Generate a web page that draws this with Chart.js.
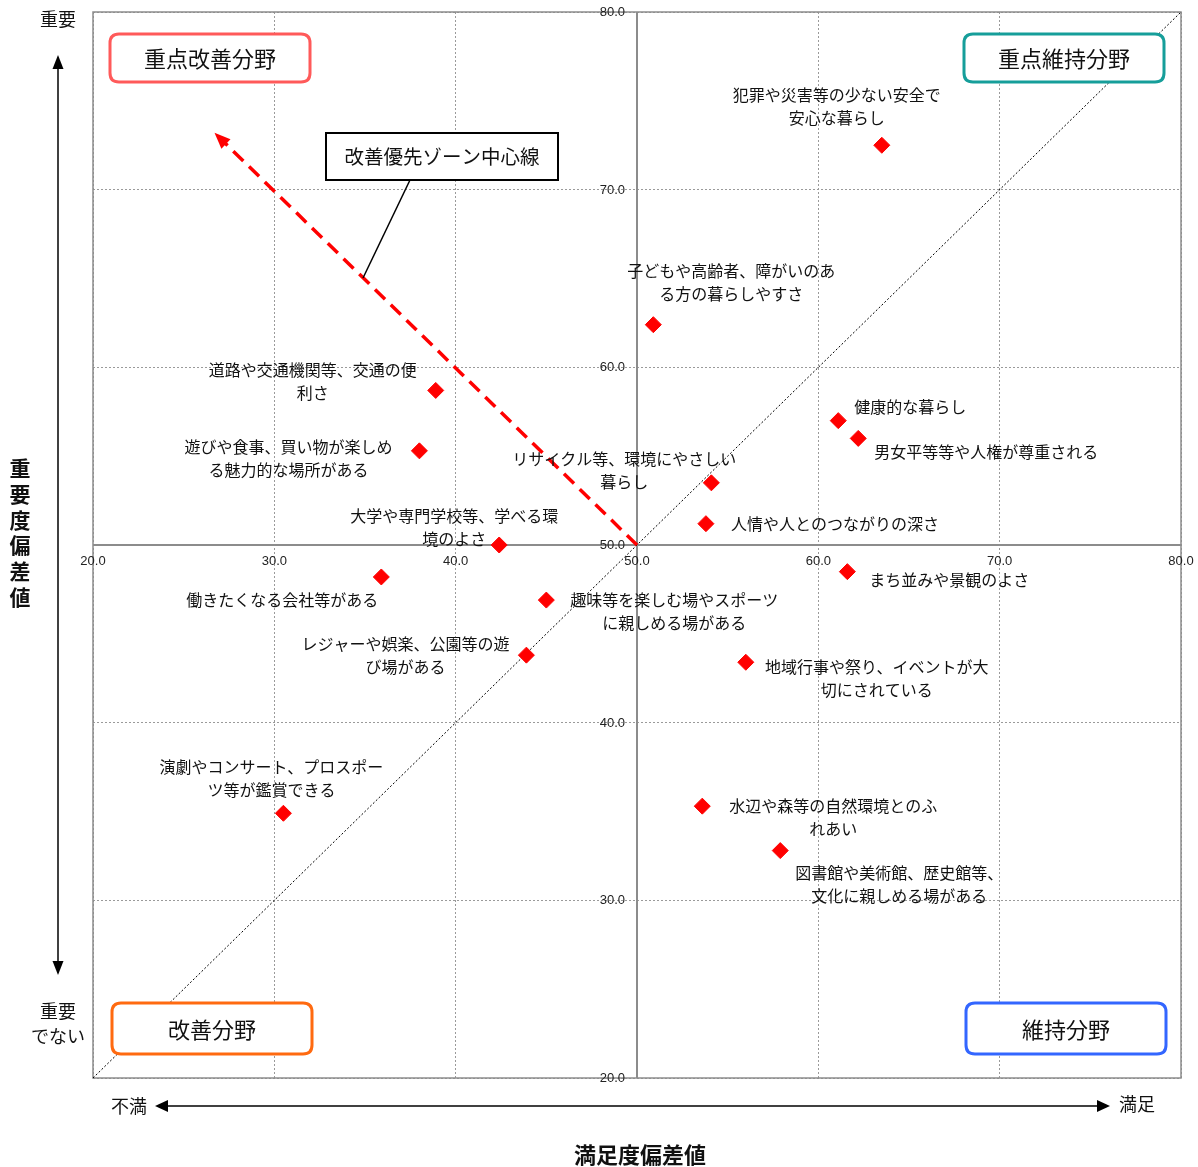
<!DOCTYPE html>
<html><head><meta charset="utf-8">
<script src="https://cdn.jsdelivr.net/npm/chart.js@4.4.1/dist/chart.umd.min.js"></script>
<style>html,body{margin:0;padding:0;background:#fff;}canvas{display:block;}</style>
</head><body>
<canvas id="c" width="1198" height="1167"></canvas>
<script>
// ---- data ----
const itemNames = [
  ["犯罪や災害等の少ない安全で","安心な暮らし"],
  ["子どもや高齢者、障がいのあ","る方の暮らしやすさ"],
  ["道路や交通機関等、交通の便","利さ"],
  ["遊びや食事、買い物が楽しめ","る魅力的な場所がある"],
  ["健康的な暮らし"],
  ["男女平等等や人権が尊重される"],
  ["リサイクル等、環境にやさしい","暮らし"],
  ["人情や人とのつながりの深さ"],
  ["大学や専門学校等、学べる環","境のよさ"],
  ["働きたくなる会社等がある"],
  ["まち並みや景観のよさ"],
  ["趣味等を楽しむ場やスポーツ","に親しめる場がある"],
  ["レジャーや娯楽、公園等の遊","び場がある"],
  ["地域行事や祭り、イベントが大","切にされている"],
  ["演劇やコンサート、プロスポー","ツ等が鑑賞できる"],
  ["水辺や森等の自然環境とのふ","れあい"],
  ["図書館や美術館、歴史館等、","文化に親しめる場がある"]
];
const satisfaction = [63.5, 50.9, 38.9, 38.0, 61.1, 62.2, 54.1, 53.8, 42.4, 35.9, 61.6, 45.0, 43.9, 56.0, 30.5, 53.6, 57.9];
const importance   = [72.5, 62.4, 58.7, 55.3, 57.0, 56.0, 53.5, 51.2, 50.0, 48.2, 48.5, 46.9, 43.8, 43.4, 34.9, 35.3, 32.8];
const xTickValues = [20, 30, 40, 50, 60, 70, 80];
const yTickValues = [20, 30, 40, 50, 60, 70, 80];
const axisCenter = {x: 50, y: 50};
const priorityArrowEnd = {x: 26.7, y: 73.2};
const diagonalLine = [{x: 20, y: 20}, {x: 80, y: 80}];

// label layout (pixel offsets of first-line center from the point)
const labelOffsets = [
  [-45,-50],[78,-54],[-123,-21],[-131,-4],[72,-14],[128,14],[-87,-24],[129,0],
  [-45,-29],[-99,23],[102,8],[128,0],[-121,-11],[131,5],[-12,-46],[131,0],[119,22]
];

const points = satisfaction.map((v,i)=>({x:v, y:importance[i]}));
const JP = '"Noto Sans CJK JP","Noto Sans",sans-serif';

function roundRect(ctx,x,y,w,h,r){
  ctx.beginPath();
  ctx.moveTo(x+r,y);ctx.lineTo(x+w-r,y);ctx.quadraticCurveTo(x+w,y,x+w,y+r);
  ctx.lineTo(x+w,y+h-r);ctx.quadraticCurveTo(x+w,y+h,x+w-r,y+h);
  ctx.lineTo(x+r,y+h);ctx.quadraticCurveTo(x,y+h,x,y+h-r);
  ctx.lineTo(x,y+r);ctx.quadraticCurveTo(x,y,x+r,y);ctx.closePath();
}
function arrowHead(ctx,x,y,angle,len,wid,color){
  ctx.save();ctx.translate(x,y);ctx.rotate(angle);
  ctx.beginPath();ctx.moveTo(0,0);ctx.lineTo(-len,-wid/2);ctx.lineTo(-len,wid/2);ctx.closePath();
  ctx.fillStyle=color;ctx.fill();ctx.restore();
}

const decor = {
  id:'decor',
  beforeDatasetsDraw(chart){
    const ctx=chart.ctx, xs=chart.scales.x, ys=chart.scales.y, a=chart.chartArea;
    ctx.save();
    // frame
    ctx.strokeStyle='#8c8c8c';ctx.lineWidth=1.5;ctx.setLineDash([]);
    ctx.strokeRect(a.left,a.top,a.right-a.left,a.bottom-a.top);
    // center axes
    const cx=xs.getPixelForValue(axisCenter.x), cy=ys.getPixelForValue(axisCenter.y);
    ctx.strokeStyle='#8c8c8c';ctx.lineWidth=2;
    ctx.beginPath();ctx.moveTo(cx,a.top);ctx.lineTo(cx,a.bottom);ctx.stroke();
    ctx.beginPath();ctx.moveTo(a.left,cy);ctx.lineTo(a.right,cy);ctx.stroke();
    // diagonal
    ctx.strokeStyle='#000';ctx.lineWidth=1;ctx.setLineDash([2,2]);
    ctx.beginPath();
    ctx.moveTo(xs.getPixelForValue(diagonalLine[0].x),ys.getPixelForValue(diagonalLine[0].y));
    ctx.lineTo(xs.getPixelForValue(diagonalLine[1].x),ys.getPixelForValue(diagonalLine[1].y));
    ctx.stroke();
    // tick labels
    ctx.setLineDash([]);
    ctx.fillStyle='#222';ctx.font='13px "Liberation Sans",Arial,sans-serif';
    ctx.textAlign='right';ctx.textBaseline='middle';
    yTickValues.forEach(v=>{ctx.fillText(v.toFixed(1),cx-12,ys.getPixelForValue(v)+0.5);});
    ctx.textAlign='center';
    xTickValues.forEach(v=>{ctx.fillText(v.toFixed(1),xs.getPixelForValue(v),cy+16);});
    // red dashed priority arrow
    const x0=cx,y0=cy,x1=xs.getPixelForValue(priorityArrowEnd.x),y1=ys.getPixelForValue(priorityArrowEnd.y);
    const ang=Math.atan2(y1-y0,x1-x0);
    ctx.strokeStyle='#ff0000';ctx.lineWidth=3.5;ctx.setLineDash([14,8]);
    ctx.beginPath();ctx.moveTo(x0,y0);ctx.lineTo(x1-Math.cos(ang)*12,y1-Math.sin(ang)*12);ctx.stroke();
    ctx.setLineDash([]);
    arrowHead(ctx,x1,y1,ang,16,13,'#ff0000');
    ctx.restore();
  },
  afterDraw(chart){
    const ctx=chart.ctx, xs=chart.scales.x, ys=chart.scales.y;
    ctx.save();
    // point labels
    ctx.fillStyle='#111';ctx.font='16px '+JP;ctx.textAlign='center';ctx.textBaseline='middle';
    points.forEach((p,i)=>{
      const px=xs.getPixelForValue(p.x), py=ys.getPixelForValue(p.y);
      const [dx,dy]=labelOffsets[i];
      itemNames[i].forEach((t,j)=>ctx.fillText(t,px+dx,py+dy+j*23));
    });
    // quadrant boxes
    const boxes=[
      ['重点改善分野',110,34,200,48,'#ff5a5a'],
      ['重点維持分野',964,34,200,48,'#169e9a'],
      ['改善分野',112,1003,200,51,'#ff6a10'],
      ['維持分野',966,1003,200,51,'#3366ff']
    ];
    boxes.forEach(([t,x,y,w,h,c])=>{
      roundRect(ctx,x,y,w,h,9);ctx.fillStyle='#fff';ctx.fill();
      ctx.strokeStyle=c;ctx.lineWidth=3;ctx.stroke();
      ctx.fillStyle='#111';ctx.font='22px '+JP;ctx.textAlign='center';ctx.textBaseline='middle';
      ctx.fillText(t,x+w/2,y+h/2+1);
    });
    // callout
    ctx.strokeStyle='#000';ctx.lineWidth=1.5;
    ctx.beginPath();ctx.moveTo(410,180);ctx.lineTo(363,278);ctx.stroke();
    ctx.fillStyle='#fff';ctx.fillRect(326,133,232,47);
    ctx.lineWidth=2;ctx.strokeRect(326,133,232,47);
    ctx.fillStyle='#111';ctx.font='19.5px '+JP;ctx.fillText('改善優先ゾーン中心線',442,157);
    // left axis
    ctx.font='18px '+JP;ctx.fillStyle='#111';
    ctx.fillText('重要',58,19);
    ctx.fillText('重要',58,1011);
    ctx.fillText('でない',58,1036);
    ctx.strokeStyle='#000';ctx.lineWidth=1.5;
    ctx.beginPath();ctx.moveTo(58,66);ctx.lineTo(58,964);ctx.stroke();
    arrowHead(ctx,58,55,-Math.PI/2,14,11,'#000');
    arrowHead(ctx,58,975,Math.PI/2,14,11,'#000');
    ctx.font='bold 21px '+JP;
    '重要度偏差値'.split('').forEach((ch,i)=>ctx.fillText(ch,20,468+i*25.8));
    // bottom axis
    ctx.font='18px '+JP;
    ctx.fillText('不満',129,1106);
    ctx.fillText('満足',1137,1104);
    ctx.beginPath();ctx.moveTo(166,1106);ctx.lineTo(1099,1106);ctx.stroke();
    arrowHead(ctx,155,1106,Math.PI,13,12,'#000');
    arrowHead(ctx,1110,1106,0,13,12,'#000');
    ctx.font='bold 22px '+JP;
    ctx.fillText('満足度偏差値',640,1155);
    ctx.restore();
  }
};

new Chart(document.getElementById('c'),{
  type:'scatter',
  data:{datasets:[{
    data:points,
    pointStyle:'rectRot',pointRadius:8,pointHoverRadius:8,
    backgroundColor:'#ff0000',borderColor:'#ff0000',borderWidth:1
  }]},
  options:{
    responsive:false,animation:false,devicePixelRatio:1,
    layout:{padding:{left:93,top:12,right:17,bottom:89}},
    plugins:{legend:{display:false},tooltip:{enabled:false}},
    scales:{
      x:{type:'linear',min:20,max:80,
        afterBuildTicks:s=>{s.ticks=xTickValues.map(v=>({value:v}));},
        ticks:{display:false},
        grid:{color:'#9a9a9a',lineWidth:1,drawTicks:false},
        border:{display:false,dash:[2,2]}},
      y:{type:'linear',min:20,max:80,
        afterBuildTicks:s=>{s.ticks=yTickValues.map(v=>({value:v}));},
        ticks:{display:false},
        grid:{color:'#9a9a9a',lineWidth:1,drawTicks:false},
        border:{display:false,dash:[2,2]}}
    }
  },
  plugins:[decor]
});
</script>
</body></html>
